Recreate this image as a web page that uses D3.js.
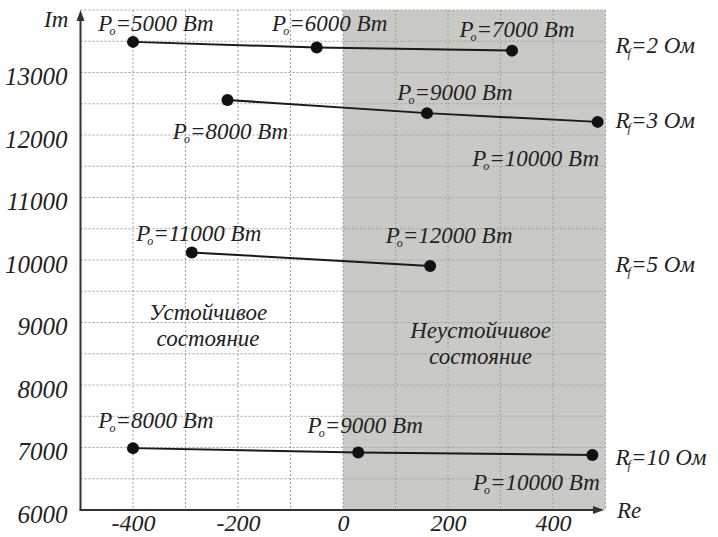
<!DOCTYPE html>
<html lang="ru">
<head>
  <meta charset="UTF-8">
  <script src="https://cdn.jsdelivr.net/npm/d3@7/dist/d3.min.js"></script>
  <title>Re / Im</title>
  <style>
    body { margin: 0; background: #fff; }
    svg text {
      font-family: "Liberation Serif", "Times New Roman", "DejaVu Serif", "Noto Serif", Times, serif;
      font-style: italic;
      fill: #222;
    }
    .grid line {
      stroke: #a0a0a0;
      stroke-width: 1;
      stroke-dasharray: 2,2;
    }
    .ticks_text { font-size: 25px; }
    .xticks_text { font-size: 24px; }
    .label_text { font-size: 23px; }
  </style>
</head>
<body>
<div id="chart"></div>
<script>
  // series: Rf values, real and imaginary parts, load power Po for each point
  var rfValues = [2, 3, 5, 10];
  var reValues = [
    [-400, -50, 322],
    [-220, 160, 485],
    [-288, 166],
    [-400, 29, 475]
  ];
  var imValues = [
    [13490, 13400, 13350],
    [12560, 12350, 12210],
    [10120, 9905],
    [6990, 6920, 6880]
  ];
  var powerValues = [
    [5000, 6000, 7000],
    [8000, 9000, 10000],
    [11000, 12000],
    [8000, 9000, 10000]
  ];

  var xTicks = [-400, -200, 0, 200, 400];
  var yTicks = [6000, 7000, 8000, 9000, 10000, 11000, 12000, 13000];
  var xGrid = d3.range(-400, 501, 100);
  var yGrid = d3.range(6500, 14001, 500);

  // label offsets in px from each point (layout only)
  var labelOffsets = [
    [[23, -11], [13, -17], [5, -14]],
    [[3, 39], [28, -13], [-62, 44]],
    [[7, -12], [19, -23]],
    [[23, -20], [7, -20], [-56, 35]]
  ];
  var rfOffsets = [2, 6, 6, 10];

  var width = 718, height = 537;

  var svg = d3.select("#chart")
    .append("svg")
    .attr("width", width)
    .attr("height", height);

  var xScale = d3.scaleLinear().domain([-500, 500]).range([80.5, 605.5]);
  var yScale = d3.scaleLinear().domain([6000, 14000]).range([510, 10]);

  // unstable region
  svg.append("rect")
    .attr("x", xScale(0))
    .attr("y", yScale(14000))
    .attr("width", xScale(500) - xScale(0))
    .attr("height", yScale(6000) - yScale(14000))
    .style("fill", "#c9c9c5");

  // dotted grid
  var grid = svg.append("g").attr("class", "grid");
  grid.selectAll(".vg")
    .data(xGrid)
    .enter()
    .append("line")
    .attr("x1", function(d) { return xScale(d); })
    .attr("x2", function(d) { return xScale(d); })
    .attr("y1", yScale(14000))
    .attr("y2", yScale(6000));
  grid.selectAll(".hg")
    .data(yGrid)
    .enter()
    .append("line")
    .attr("x1", xScale(-500))
    .attr("x2", xScale(500))
    .attr("y1", function(d) { return yScale(d); })
    .attr("y2", function(d) { return yScale(d); });

  // region captions
  var notes = [
    { lines: ["Устойчивое", "состояние"], re: -257, im: 9040 },
    { lines: ["Неустойчивое", "состояние"], re: 262, im: 8750 }
  ];
  notes.forEach(function(n) {
    var t = svg.append("text")
      .attr("class", "label_text")
      .attr("text-anchor", "middle")
      .attr("x", xScale(n.re))
      .attr("y", yScale(n.im));
    n.lines.forEach(function(line, i) {
      t.append("tspan")
        .attr("x", xScale(n.re))
        .attr("dy", i === 0 ? 0 : 26)
        .text(line);
    });
  });

  // axes
  var yAxis = svg.append("g")
    .attr("transform", "translate(" + xScale(-500) + ",0)")
    .call(d3.axisLeft(yScale).tickValues(yTicks).tickSize(0).tickPadding(13)
      .tickFormat(d3.format("d")));
  yAxis.select(".domain").remove();
  yAxis.selectAll("text")
    .attr("class", "ticks_text")
    .attr("y", 4);
  yAxis.attr("font-family", null).attr("font-size", null);

  var xAxis = svg.append("g")
    .attr("transform", "translate(0," + yScale(6000) + ")")
    .call(d3.axisBottom(xScale).tickValues(xTicks).tickSize(0).tickPadding(4)
      .tickFormat(function(d) { return String(d); }));
  xAxis.select(".domain").remove();
  xAxis.selectAll("text").attr("class", "xticks_text");
  xAxis.attr("font-family", null).attr("font-size", null);

  var axisColor = "#333";
  svg.append("line")
    .attr("x1", xScale(-500)).attr("y1", yScale(6000))
    .attr("x2", xScale(-500)).attr("y2", 18)
    .style("stroke", axisColor).style("stroke-width", 2);
  svg.append("path")
    .attr("d", "M" + xScale(-500) + ",10 l-4,11 l8,0 z")
    .style("fill", axisColor);
  svg.append("line")
    .attr("x1", xScale(-500) - 1).attr("y1", yScale(6000))
    .attr("x2", 596).attr("y2", yScale(6000))
    .style("stroke", axisColor).style("stroke-width", 2);
  svg.append("path")
    .attr("d", "M604," + yScale(6000) + " l-11,-4 l0,8 z")
    .style("fill", axisColor);

  svg.append("text")
    .attr("class", "label_text")
    .attr("x", 44).attr("y", 27)
    .text("Im");
  svg.append("text")
    .attr("class", "label_text")
    .attr("x", 617).attr("y", 518)
    .text("Re");

  // series lines and points
  var line = d3.line()
    .x(function(d) { return xScale(d[0]); })
    .y(function(d) { return yScale(d[1]); });

  function powerLabel(x, y, p) {
    var t = svg.append("text")
      .attr("class", "label_text")
      .attr("text-anchor", "middle")
      .attr("x", x).attr("y", y);
    t.append("tspan").text("P");
    t.append("tspan").attr("dx", -3).attr("dy", 4).style("font-size", "12px").text("o");
    t.append("tspan").attr("dy", -4).text("=" + p + " Вт");
  }

  rfValues.forEach(function(rf, s) {
    var pts = reValues[s].map(function(re, i) { return [re, imValues[s][i]]; });

    svg.append("path")
      .datum(pts)
      .attr("d", line)
      .style("fill", "none")
      .style("stroke", "#1a1a1a")
      .style("stroke-width", 2);

    svg.selectAll(".pt" + s)
      .data(pts)
      .enter()
      .append("circle")
      .attr("cx", function(d) { return xScale(d[0]); })
      .attr("cy", function(d) { return yScale(d[1]); })
      .attr("r", 6)
      .style("fill", "#111");

    pts.forEach(function(d, i) {
      powerLabel(xScale(d[0]) + labelOffsets[s][i][0],
                 yScale(d[1]) + labelOffsets[s][i][1],
                 powerValues[s][i]);
    });

    var last = pts[pts.length - 1];
    var t = svg.append("text")
      .attr("class", "label_text")
      .attr("x", xScale(500) + 10)
      .attr("y", yScale(last[1]) + rfOffsets[s]);
    t.append("tspan").text("R");
    t.append("tspan").attr("dx", -2).attr("dy", 4).style("font-size", "12px").text("f");
    t.append("tspan").attr("dy", -4).text("=" + rf + " Ом");
  });
</script>
</body>
</html>
